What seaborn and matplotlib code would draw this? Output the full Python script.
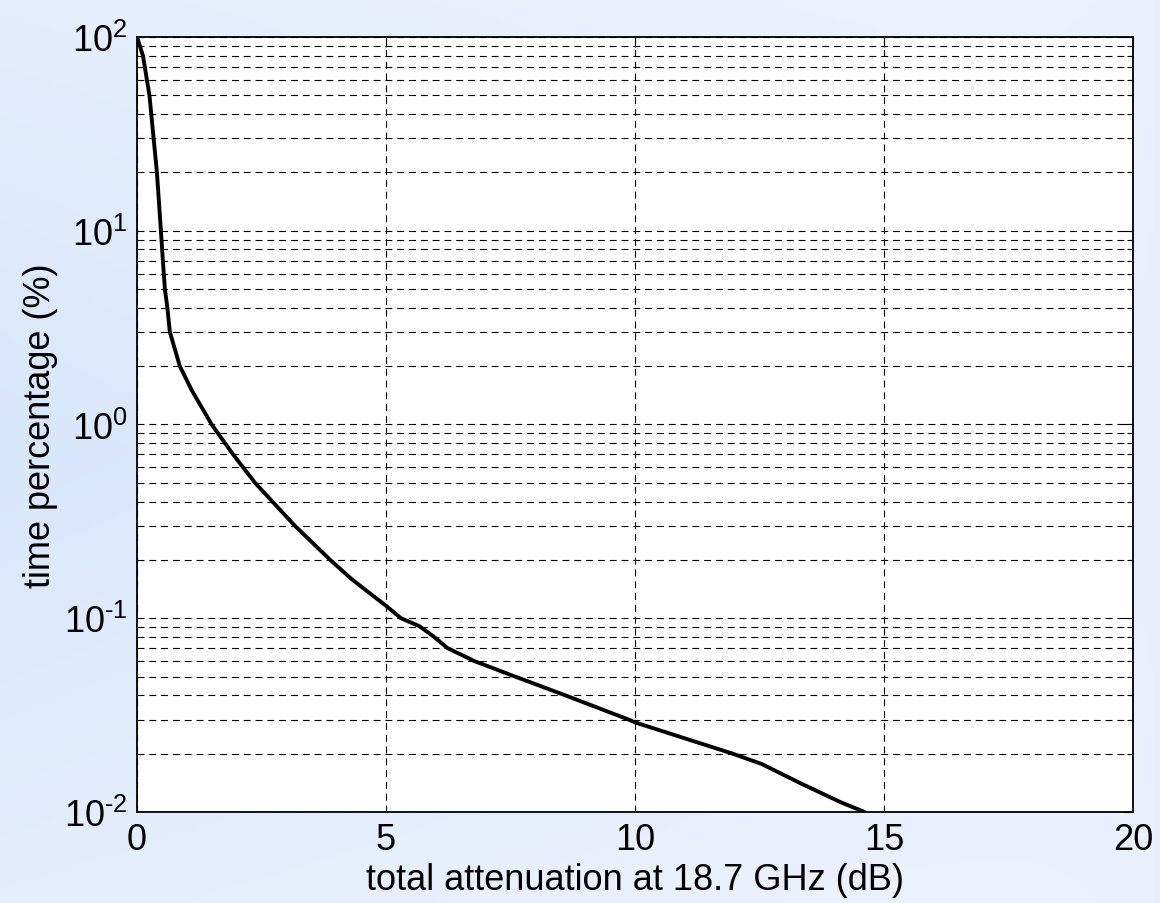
import matplotlib
matplotlib.use('Agg')
import matplotlib.pyplot as plt
import matplotlib.ticker as mticker
import numpy as np
import pandas as pd
import seaborn as sns

# exceedance curve
attenuation_db = [0.0, 0.12, 0.25, 0.40, 0.48, 0.52, 0.56, 0.61, 0.66, 0.86,
                  1.10, 1.50, 1.93, 2.37, 3.17, 3.88, 4.30, 4.65, 5.00, 5.30,
                  5.67, 5.94, 6.24, 6.78, 7.59, 8.60, 9.87, 10.0, 11.96,
                  12.54, 13.34, 14.14, 14.61]
time_pct = [100, 80, 50, 20, 10, 7, 5, 4, 3, 2,
            1.5, 1.0, 0.7, 0.5, 0.3, 0.2, 0.16, 0.136, 0.116, 0.1,
            0.091, 0.081, 0.07, 0.06, 0.05, 0.04, 0.03, 0.029, 0.02,
            0.0177, 0.014, 0.0112, 0.01]

x_ticks = [0, 5, 10, 15, 20]

df = pd.DataFrame({'att': attenuation_db, 'pct': time_pct})

sns.set_theme(style='white')
plt.rcParams['font.family'] = ['Liberation Sans', 'DejaVu Sans']
plt.rcParams['mathtext.fontset'] = 'custom'
plt.rcParams['mathtext.rm'] = 'Liberation Sans'
plt.rcParams['mathtext.it'] = 'Liberation Sans'
plt.rcParams['axes.unicode_minus'] = False
plt.rcParams['lines.scale_dashes'] = False
plt.rcParams['axes.labelcolor'] = 'black'
plt.rcParams['text.color'] = 'black'

fig = plt.figure(figsize=(11.6, 9.04), dpi=100)

# light blue slide background
bg = fig.add_axes([0, 0, 1, 1], zorder=-10)
xx, yy = np.meshgrid(np.linspace(0, 1, 200), np.linspace(0, 1, 200))
shade = 0.55 * xx + 0.45 * np.abs(yy - 0.5) * 2 * (1 - xx) ** 0.5
c0 = np.array([217, 231, 251]) / 255
c1 = np.array([243, 247, 254]) / 255
img = c0 + (c1 - c0) * np.clip(shade, 0, 1)[..., None]
bg.imshow(img, aspect='auto', extent=[0, 1, 0, 1])
bg.axis('off')

ax = fig.add_axes([0.1181, 0.1007, 0.8586, 0.8573])
ax.set_facecolor('white')

sns.lineplot(data=df, x='att', y='pct', ax=ax, color='black',
             linewidth=2.8, estimator=None, sort=False)


def pow10(v, pos):
    e = int(round(np.log10(v)))
    if e < 0:
        return r'$\mathdefault{10^{\text{-}%d}}$' % (-e)
    return r'$\mathdefault{10^{%d}}$' % e


ax.set_yscale('log')
ax.set_xlim(0, 20)
ax.set_ylim(1e-2, 1e2)
ax.set_xticks(x_ticks)
ax.yaxis.set_major_locator(mticker.LogLocator(base=10, numticks=10))
ax.yaxis.set_major_formatter(mticker.FuncFormatter(pow10))
ax.yaxis.set_minor_locator(mticker.LogLocator(base=10, subs=np.arange(2, 10), numticks=10))
ax.yaxis.set_minor_formatter(mticker.NullFormatter())

ax.grid(which='major', axis='both', color='black', linestyle=(0, (5, 3.5)), linewidth=0.8)
ax.grid(which='minor', axis='y', color='black', linestyle=(0, (5, 3.5)), linewidth=0.8)

ax.tick_params(which='both', direction='in', top=True, right=True, colors='black',
               labelsize=26, width=0.8)
ax.tick_params(which='major', length=7, pad=7)
ax.tick_params(which='minor', length=4)
for s in ax.spines.values():
    s.set_color('black')
    s.set_linewidth(1.3)

ax.set_xlabel('total attenuation at 18.7 GHz (dB)', fontsize=26, labelpad=4)
ax.set_ylabel('time percentage (%)', fontsize=26, labelpad=4)

fig.savefig('out.png', dpi=100)
